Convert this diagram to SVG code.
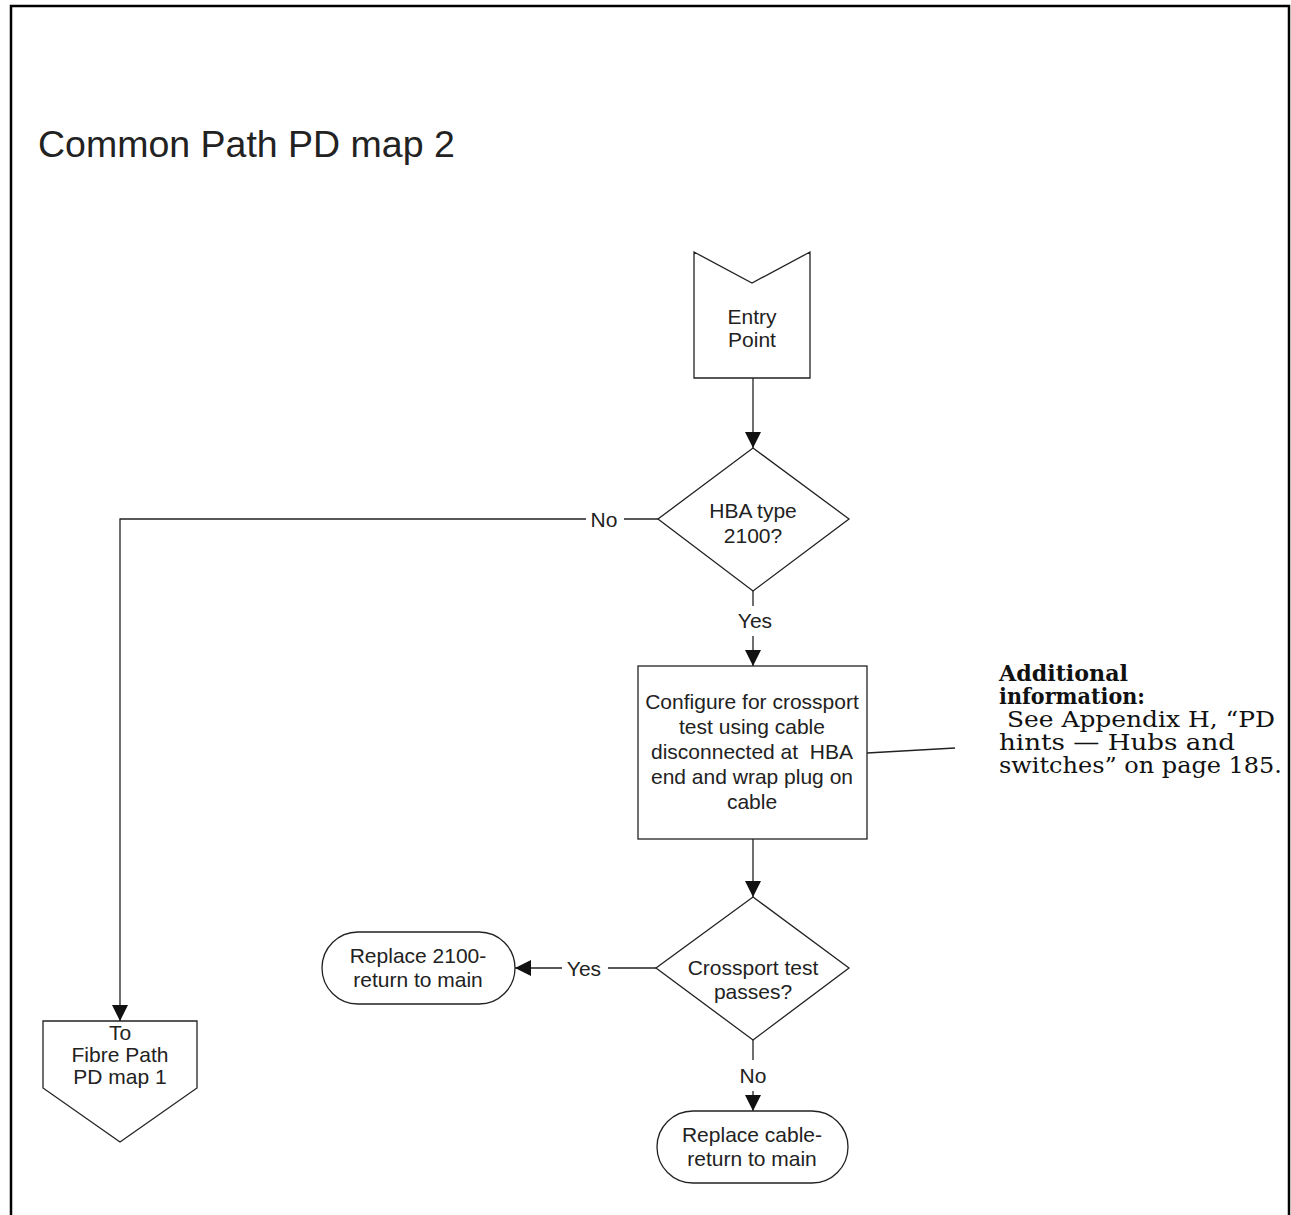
<svg xmlns="http://www.w3.org/2000/svg" width="1291" height="1215" viewBox="0 0 1291 1215">
  <style>
    .shape { fill: #ffffff; stroke: #222222; stroke-width: 1.3; }
    .wire { fill: none; stroke: #222222; stroke-width: 1.3; }
    .lbl { font-family: "Liberation Sans", Arial, sans-serif; font-size: 21px; fill: #222222; text-anchor: middle; }
    .note { font-family: "DejaVu Serif", "Liberation Serif", serif; font-size: 22px; fill: #111111; }
    .note-b { font-weight: bold; }
    .title { font-family: "Liberation Sans", Arial, sans-serif; font-size: 37.5px; fill: #222222; }
  </style>
  <defs>
    <marker id="arrow" markerUnits="userSpaceOnUse" markerWidth="16" markerHeight="16" viewBox="0 0 16 16" refX="16" refY="8" orient="auto">
      <path d="M0,0 L16,8 L0,16 Z" fill="#111111"/>
    </marker>
  </defs>

  <rect x="0" y="0" width="1291" height="1215" fill="#ffffff"/>
  <!-- page frame, open at the bottom -->
  <path d="M11,1220 L11,6 L1289,6 L1289,1220" fill="none" stroke="#000000" stroke-width="2.5"/>

  <text class="title" x="38" y="157">Common Path PD map 2</text>

  <g id="connectors">
    <line class="wire" x1="753" y1="378" x2="753" y2="448" marker-end="url(#arrow)"/>
    <line class="wire" x1="658" y1="519" x2="624" y2="519"/>
    <text class="lbl" x="604" y="527">No</text>
    <polyline class="wire" points="586,519 120,519 120,1021" marker-end="url(#arrow)"/>
    <line class="wire" x1="753" y1="591" x2="753" y2="606"/>
    <text class="lbl" x="755" y="628">Yes</text>
    <line class="wire" x1="753" y1="636" x2="753" y2="666" marker-end="url(#arrow)"/>
    <line class="wire" x1="753" y1="839" x2="753" y2="897" marker-end="url(#arrow)"/>
    <line class="wire" x1="656" y1="968" x2="608" y2="968"/>
    <text class="lbl" x="584" y="976">Yes</text>
    <line class="wire" x1="562" y1="968" x2="515" y2="968" marker-end="url(#arrow)"/>
    <line class="wire" x1="753" y1="1040" x2="753" y2="1060"/>
    <text class="lbl" x="753" y="1083">No</text>
    <line class="wire" x1="753" y1="1091" x2="753" y2="1111" marker-end="url(#arrow)"/>
    <line class="wire" x1="867" y1="753" x2="955" y2="748"/>
  </g>

  <g id="entry-point">
    <polygon class="shape" points="694,252 752,283 810,252 810,378 694,378"/>
    <text class="lbl" x="752" y="324">Entry</text>
    <text class="lbl" x="752" y="347">Point</text>
  </g>

  <g id="hba-type">
    <polygon class="shape" points="753,448 849,519 753,591 658,519"/>
    <text class="lbl" x="753" y="518">HBA type</text>
    <text class="lbl" x="753" y="543">2100?</text>
  </g>

  <g id="configure">
    <rect class="shape" x="638" y="666" width="229" height="173"/>
    <text class="lbl" x="752" y="709">Configure for crossport</text>
    <text class="lbl" x="752" y="734">test using cable</text>
    <text class="lbl" x="752" y="759" xml:space="preserve">disconnected at  HBA</text>
    <text class="lbl" x="752" y="784">end and wrap plug on</text>
    <text class="lbl" x="752" y="809">cable</text>
  </g>

  <g id="additional-info">
    <text class="note note-b" x="999" y="681" textLength="129" lengthAdjust="spacingAndGlyphs">Additional</text>
    <text class="note note-b" x="999" y="704" textLength="146" lengthAdjust="spacingAndGlyphs">information:</text>
    <text class="note" x="999" y="727" textLength="276" lengthAdjust="spacingAndGlyphs" xml:space="preserve"> See Appendix H, “PD</text>
    <text class="note" x="999" y="750" textLength="236" lengthAdjust="spacingAndGlyphs">hints — Hubs and</text>
    <text class="note" x="999" y="773" textLength="283" lengthAdjust="spacingAndGlyphs">switches” on page 185.</text>
  </g>

  <g id="crossport-test">
    <polygon class="shape" points="753,897 849,968 753,1040 656,968"/>
    <text class="lbl" x="753" y="975">Crossport test</text>
    <text class="lbl" x="753" y="999">passes?</text>
  </g>

  <g id="replace-2100">
    <rect class="shape" x="322" y="932" width="193" height="72" rx="36" ry="36"/>
    <text class="lbl" x="418" y="963">Replace 2100-</text>
    <text class="lbl" x="418" y="987">return to main</text>
  </g>

  <g id="replace-cable">
    <rect class="shape" x="657" y="1111" width="191" height="72" rx="36" ry="36"/>
    <text class="lbl" x="752" y="1142">Replace cable-</text>
    <text class="lbl" x="752" y="1166">return to main</text>
  </g>

  <g id="fibre-path">
    <polygon class="shape" points="43,1021 197,1021 197,1088 120,1142 43,1088"/>
    <text class="lbl" x="120" y="1040">To</text>
    <text class="lbl" x="120" y="1062">Fibre Path</text>
    <text class="lbl" x="120" y="1084">PD map 1</text>
  </g>
</svg>
